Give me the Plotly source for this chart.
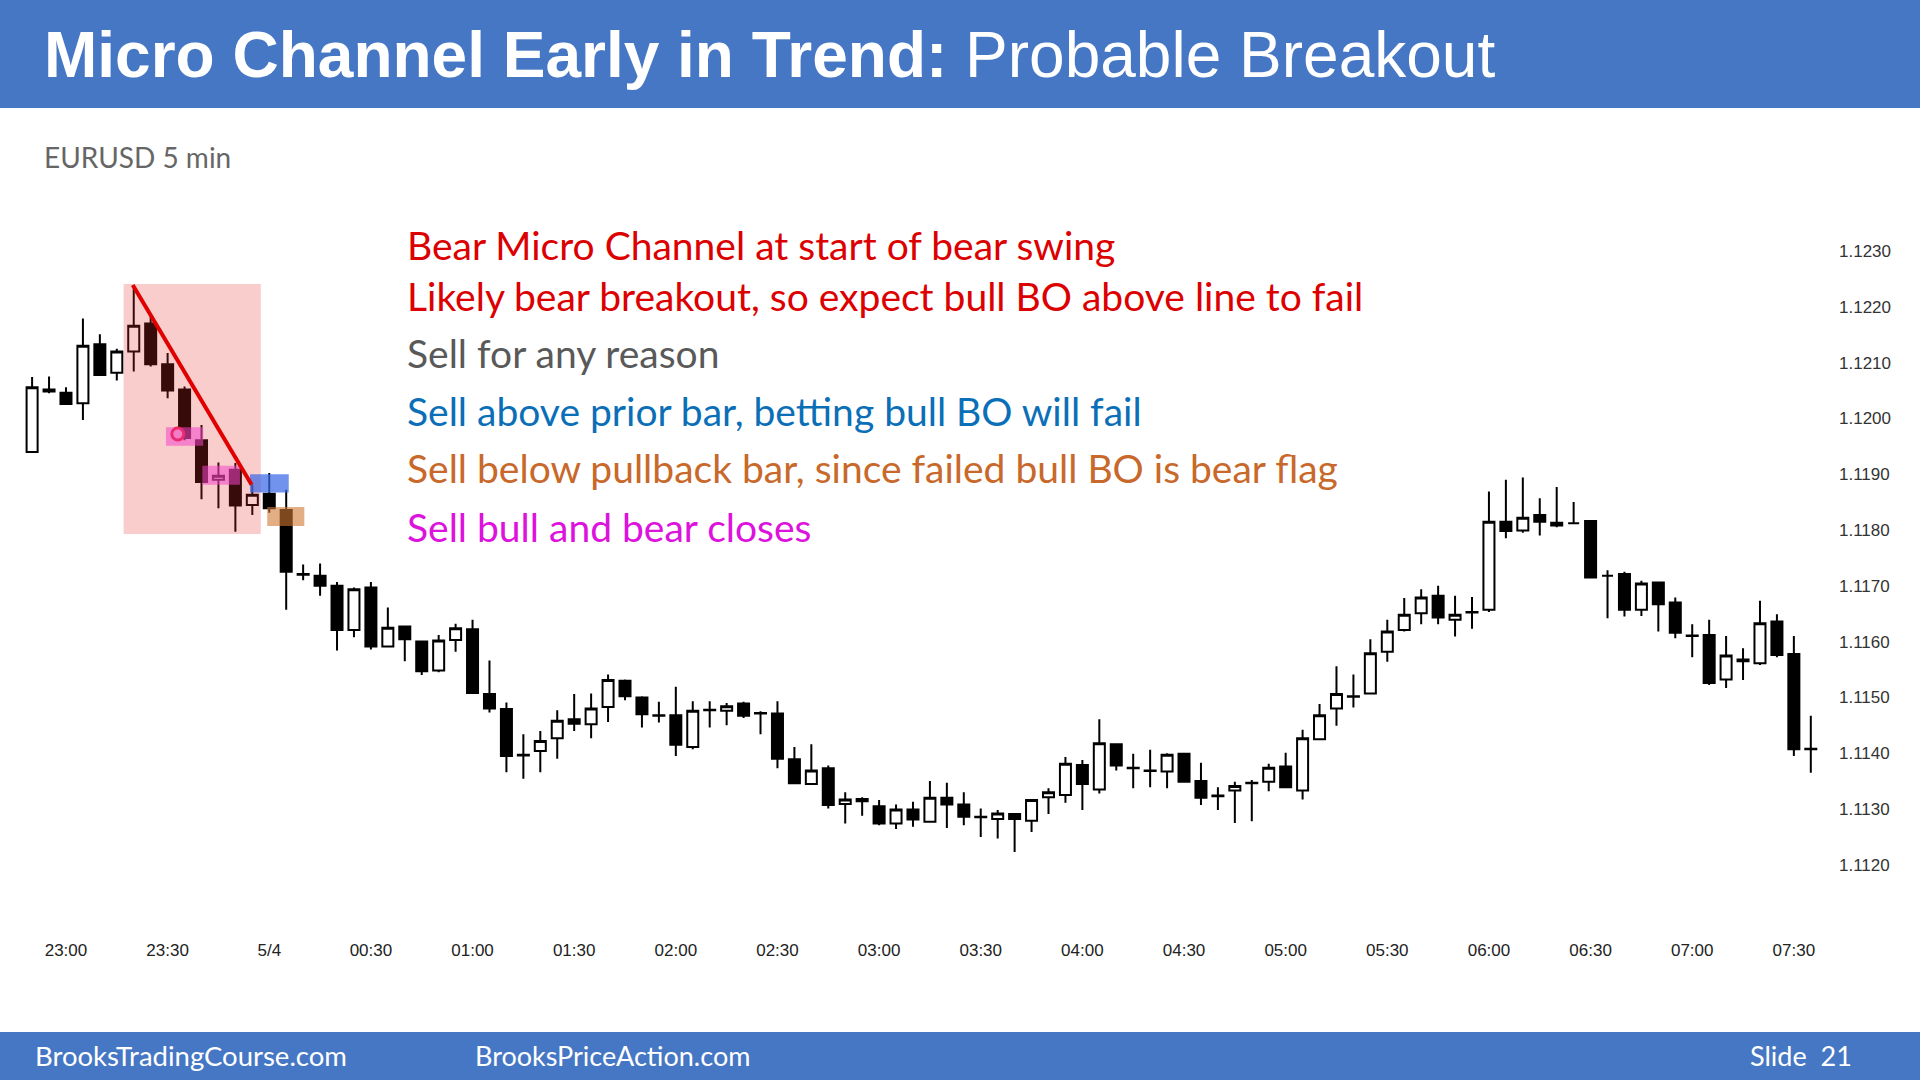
import pandas as pd
import plotly.graph_objects as go

# ---------------- data ----------------
start_time = "2019-05-03 22:50"
n_bars = 106
opens = [1.11940, 1.12052, 1.12046, 1.12027, 1.12133, 1.12082, 1.12120, 1.12170, 1.12097, 1.12052,
         1.11961, 1.11890, 1.11908, 1.11845, 1.11865, 1.11836, 1.11721, 1.11718, 1.11700, 1.11621,
         1.11697, 1.11591, 1.11627, 1.11600, 1.11548, 1.11603, 1.11622, 1.11506, 1.11479, 1.11397,
         1.11404, 1.11427, 1.11461, 1.11452, 1.11483, 1.11530, 1.11500, 1.11468, 1.11468, 1.11411,
         1.11478, 1.11476, 1.11489, 1.11472, 1.11471, 1.11389, 1.11345, 1.11373, 1.11309, 1.11318,
         1.11305, 1.11274, 1.11299, 1.11277, 1.11320, 1.11308, 1.11286, 1.11282, 1.11291, 1.11279,
         1.11321, 1.11325, 1.11379, 1.11335, 1.11416, 1.11374, 1.11369, 1.11367, 1.11399, 1.11350,
         1.11324, 1.11333, 1.11346, 1.11349, 1.11376, 1.11333, 1.11425, 1.11480, 1.11501, 1.11507,
         1.11582, 1.11621, 1.11651, 1.11682, 1.11639, 1.11652, 1.11657, 1.11815, 1.11799, 1.11827,
         1.11813, 1.11812, 1.11816, 1.11718, 1.11721, 1.11657, 1.11706, 1.11670, 1.11611, 1.11612,
         1.11532, 1.11568, 1.11561, 1.11636, 1.11578, 1.11408]
highs = [1.12074, 1.12075, 1.12056, 1.12179, 1.12151, 1.12125, 1.12239, 1.12182, 1.12117, 1.12057,
         1.11988, 1.11921, 1.11920, 1.11881, 1.11902, 1.11872, 1.11738, 1.11740, 1.11707, 1.11697,
         1.11707, 1.11661, 1.11629, 1.11601, 1.11612, 1.11632, 1.11639, 1.11566, 1.11491, 1.11434,
         1.11440, 1.11477, 1.11506, 1.11507, 1.11541, 1.11532, 1.11502, 1.11492, 1.11519, 1.11493,
         1.11493, 1.11490, 1.11492, 1.11475, 1.11493, 1.11411, 1.11416, 1.11378, 1.11330, 1.11321,
         1.11316, 1.11308, 1.11313, 1.11350, 1.11347, 1.11330, 1.11301, 1.11298, 1.11292, 1.11318,
         1.11337, 1.11393, 1.11388, 1.11461, 1.11418, 1.11399, 1.11406, 1.11400, 1.11400, 1.11383,
         1.11339, 1.11349, 1.11352, 1.11381, 1.11401, 1.11442, 1.11488, 1.11556, 1.11541, 1.11604,
         1.11639, 1.11678, 1.11694, 1.11700, 1.11682, 1.11680, 1.11869, 1.11890, 1.11894, 1.11857,
         1.11877, 1.11850, 1.11816, 1.11728, 1.11725, 1.11709, 1.11706, 1.11679, 1.11631, 1.11639,
         1.11610, 1.11588, 1.11673, 1.11649, 1.11610, 1.11467]
lows = [1.11940, 1.12045, 1.12024, 1.11997, 1.12076, 1.12068, 1.12084, 1.12093, 1.12036, 1.11961,
        1.11855, 1.11839, 1.11797, 1.11827, 1.11831, 1.11657, 1.11710, 1.11682, 1.11584, 1.11608,
        1.11586, 1.11591, 1.11565, 1.11540, 1.11545, 1.11582, 1.11507, 1.11473, 1.11366, 1.11354,
        1.11366, 1.11390, 1.11440, 1.11427, 1.11456, 1.11495, 1.11446, 1.11455, 1.11395, 1.11407,
        1.11446, 1.11450, 1.11463, 1.11434, 1.11373, 1.11345, 1.11345, 1.11301, 1.11274, 1.11288,
        1.11271, 1.11264, 1.11268, 1.11277, 1.11266, 1.11271, 1.11250, 1.11247, 1.11223, 1.11259,
        1.11291, 1.11311, 1.11298, 1.11328, 1.11369, 1.11337, 1.11339, 1.11337, 1.11349, 1.11307,
        1.11298, 1.11275, 1.11278, 1.11332, 1.11337, 1.11317, 1.11425, 1.11449, 1.11482, 1.11507,
        1.11564, 1.11618, 1.11631, 1.11631, 1.11609, 1.11623, 1.11653, 1.11785, 1.11795, 1.11790,
        1.11805, 1.11811, 1.11715, 1.11642, 1.11645, 1.11646, 1.11618, 1.11606, 1.11572, 1.11522,
        1.11517, 1.11531, 1.11558, 1.11572, 1.11395, 1.11365]
closes = [1.12056, 1.12048, 1.12026, 1.12130, 1.12078, 1.12120, 1.12166, 1.12097, 1.12050, 1.11965,
          1.11886, 1.11897, 1.11844, 1.11863, 1.11839, 1.11725, 1.11720, 1.11700, 1.11621, 1.11694,
          1.11591, 1.11625, 1.11604, 1.11547, 1.11602, 1.11624, 1.11508, 1.11480, 1.11395, 1.11396,
          1.11422, 1.11458, 1.11453, 1.11480, 1.11531, 1.11502, 1.11470, 1.11467, 1.11415, 1.11476,
          1.11477, 1.11484, 1.11467, 1.11471, 1.11390, 1.11346, 1.11369, 1.11307, 1.11317, 1.11314,
          1.11274, 1.11299, 1.11281, 1.11320, 1.11308, 1.11286, 1.11285, 1.11292, 1.11282, 1.11316,
          1.11330, 1.11381, 1.11345, 1.11418, 1.11378, 1.11373, 1.11368, 1.11397, 1.11349, 1.11320,
          1.11323, 1.11341, 1.11347, 1.11374, 1.11339, 1.11427, 1.11468, 1.11506, 1.11502, 1.11579,
          1.11618, 1.11648, 1.11679, 1.11643, 1.11648, 1.11653, 1.11815, 1.11798, 1.11822, 1.11815,
          1.11808, 1.11812, 1.11715, 1.11718, 1.11657, 1.11704, 1.11667, 1.11616, 1.11610, 1.11526,
          1.11575, 1.11565, 1.11633, 1.11576, 1.11407, 1.11407]

tick_times = ["2019-05-03 23:00", "2019-05-03 23:30", "2019-05-04 00:00", "2019-05-04 00:30",
              "2019-05-04 01:00", "2019-05-04 01:30", "2019-05-04 02:00", "2019-05-04 02:30",
              "2019-05-04 03:00", "2019-05-04 03:30", "2019-05-04 04:00", "2019-05-04 04:30",
              "2019-05-04 05:00", "2019-05-04 05:30", "2019-05-04 06:00", "2019-05-04 06:30",
              "2019-05-04 07:00", "2019-05-04 07:30"]
tick_labels = ["23:00", "23:30", "5/4", "00:30", "01:00", "01:30", "02:00", "02:30", "03:00",
               "03:30", "04:00", "04:30", "05:00", "05:30", "06:00", "06:30", "07:00", "07:30"]
price_ticks = [1.1120, 1.1130, 1.1140, 1.1150, 1.1160, 1.1170, 1.1180, 1.1190, 1.1200,
               1.1210, 1.1220, 1.1230]

text_lines = ["Bear Micro Channel at start of bear swing",
              "Likely bear breakout, so expect bull BO above line to fail",
              "Sell for any reason",
              "Sell above prior bar, betting bull BO will fail",
              "Sell below pullback bar, since failed bull BO is bear flag",
              "Sell bull and bear closes"]
text_colors = ["#DC0000", "#DC0000", "#595959", "#0B6FB8", "#C8692B", "#DD12DD"]

# ---------------- layout geometry ----------------
W, H = 1920, 1080
ML, MR, MT, MB = 0, 90, 230, 142
PW, PH = W - ML - MR, H - MT - MB
t0 = pd.Timestamp(start_time)
times = pd.date_range(t0, periods=n_bars, freq="5min")
bar_px = 16.94
first_px = 32.1
x_start = t0 - pd.Timedelta(minutes=5 * first_px / bar_px)
x_end = x_start + pd.Timedelta(minutes=5 * PW / bar_px)
y_top = 1.1180 + (530 - MT) / 55800
y_bot = 1.1180 - (H - MB - 530) / 55800


def tx(idx):
    return t0 + pd.Timedelta(minutes=5 * idx)


def px(x):
    return (x - ML) / PW


def py(y):
    return (H - MB - y) / PH


fig = go.Figure()
fig.add_trace(go.Candlestick(
    x=times, open=opens, high=highs, low=lows, close=closes,
    increasing=dict(line=dict(color="black", width=2), fillcolor="white"),
    decreasing=dict(line=dict(color="black", width=2), fillcolor="black"),
    whiskerwidth=0, showlegend=False, hoverinfo="skip",
))

shapes = []
# header and footer bands
shapes.append(dict(type="rect", xref="paper", yref="paper", x0=px(0), x1=px(W), y0=py(108), y1=py(0),
                   fillcolor="#4677C4", line=dict(width=0), layer="below"))
shapes.append(dict(type="rect", xref="paper", yref="paper", x0=px(0), x1=px(W), y0=py(H), y1=py(1032),
                   fillcolor="#4677C4", line=dict(width=0), layer="below"))
# micro channel highlight
shapes.append(dict(type="rect", xref="x", yref="y", x0=tx(5.4), x1=tx(13.5), y0=1.11793, y1=1.12241,
                   fillcolor="rgba(235,45,45,0.24)", line=dict(width=0), layer="above"))
# magenta boxes
shapes.append(dict(type="rect", xref="x", yref="y", x0=tx(7.9), x1=tx(10.1), y0=1.11951, y1=1.11984,
                   fillcolor="rgba(240,70,200,0.55)", line=dict(width=0), layer="above"))
shapes.append(dict(type="rect", xref="x", yref="y", x0=tx(10.05), x1=tx(12.27), y0=1.11881, y1=1.11915,
                   fillcolor="rgba(240,70,200,0.55)", line=dict(width=0), layer="above"))
# blue box
shapes.append(dict(type="rect", xref="x", yref="y", x0=tx(12.86), x1=tx(15.15), y0=1.11867, y1=1.11900,
                   fillcolor="rgba(60,105,230,0.72)", line=dict(width=0), layer="above"))
# orange box
shapes.append(dict(type="rect", xref="x", yref="y", x0=tx(13.88), x1=tx(16.07), y0=1.11807, y1=1.11841,
                   fillcolor="rgba(210,120,50,0.6)", line=dict(width=0), layer="above"))
# trend line
shapes.append(dict(type="line", xref="x", yref="y", x0=tx(5.94), y0=1.12239, x1=tx(12.96), y1=1.11881,
                   line=dict(color="#E00000", width=4), layer="above"))

fig.add_trace(go.Scatter(
    x=[tx(8.6)], y=[1.11972], mode="markers",
    marker=dict(symbol="circle", size=12, color="rgba(255,235,235,1)", line=dict(color="#E00000", width=3)),
    showlegend=False, hoverinfo="skip"))

annotations = []
annotations.append(dict(xref="paper", yref="paper", x=px(41.5), y=py(55), xanchor="left", yanchor="middle",
                        text="<b>Micro Channel Early in Trend:</b> Probable Breakout", showarrow=False,
                        font=dict(family="Liberation Sans, Arial, sans-serif", size=64, color="white")))
annotations.append(dict(xref="paper", yref="paper", x=px(42), y=py(157), xanchor="left", yanchor="middle",
                        text="EURUSD 5 min", showarrow=False,
                        font=dict(family="Lato, Open Sans, sans-serif", size=28, color="#666666")))
line_y = [245, 296, 353, 411, 468, 527]
for txt, col, yy in zip(text_lines, text_colors, line_y):
    annotations.append(dict(xref="paper", yref="paper", x=px(405), y=py(yy), xanchor="left", yanchor="middle",
                            text=txt, showarrow=False,
                            font=dict(family="Lato, Open Sans, sans-serif", size=39, color=col)))
annotations.append(dict(xref="paper", yref="paper", x=px(33), y=py(1055), xanchor="left", yanchor="middle",
                        text="BrooksTradingCourse.com", showarrow=False,
                        font=dict(family="Lato, Open Sans, sans-serif", size=27.5, color="white")))
annotations.append(dict(xref="paper", yref="paper", x=px(473), y=py(1055), xanchor="left", yanchor="middle",
                        text="BrooksPriceAction.com", showarrow=False,
                        font=dict(family="Lato, Open Sans, sans-serif", size=27, color="white")))
annotations.append(dict(xref="paper", yref="paper", x=px(1854), y=py(1055), xanchor="right", yanchor="middle",
                        text="Slide&nbsp;&nbsp;21", showarrow=False,
                        font=dict(family="Lato, Open Sans, sans-serif", size=27, color="white")))

fig.update_layout(
    width=W, height=H, autosize=False,
    margin=dict(l=ML, r=MR, t=MT, b=MB, pad=0),
    paper_bgcolor="white", plot_bgcolor="white",
    boxgap=0.35, boxgroupgap=0,
    shapes=shapes, annotations=annotations, showlegend=False,
    xaxis=dict(type="date", range=[x_start, x_end], rangeslider=dict(visible=False),
               tickmode="array", tickvals=[pd.Timestamp(t) for t in tick_times], ticktext=tick_labels,
               showgrid=False, zeroline=False, showline=False, ticks="",
               tickfont=dict(family="Liberation Sans Narrow, Arial Narrow, Liberation Sans, Arial", size=17,
                             color="#222222")),
    yaxis=dict(range=[y_bot, y_top], side="right", tickmode="array", tickvals=price_ticks,
               ticktext=[f"{v:.4f}" for v in price_ticks],
               showgrid=False, zeroline=False, showline=False, ticks="", ticklabelstandoff=8,
               tickfont=dict(family="Liberation Sans, Arial", size=17, color="#333333")),
)

fig.write_html("out.html")
